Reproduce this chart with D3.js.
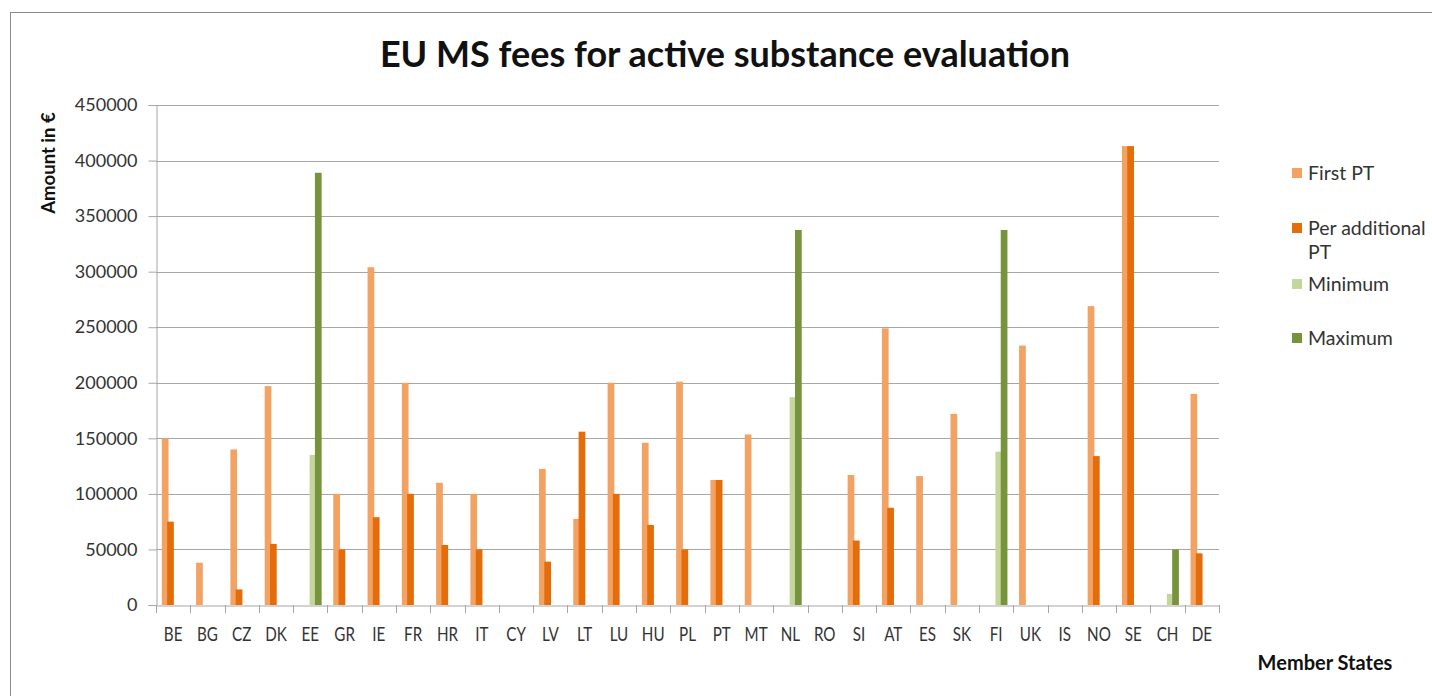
<!DOCTYPE html>
<html>
<head>
<meta charset="utf-8">
<script src="https://cdn.jsdelivr.net/npm/d3@7"></script>
<style>
    body { margin: 0; background: #fff; }
    text { font-family: Lato, "Open Sans", sans-serif; fill: #222; }
    .title { font-size: 36px; font-weight: bold; fill: #111; }
    .label { font-size: 18.5px; font-weight: bold; fill: #111; }
    .xlabel { font-size: 20px; font-weight: bold; fill: #111; }
    .tick text { font-size: 18px; fill: #333; }
    .legend { font-size: 19.5px; fill: #333; }
</style>
</head>
<body>
<script>
// Member states on the x axis
const countries = ["BE", "BG", "CZ", "DK", "EE", "GR", "IE", "FR", "HR", "IT", "CY", "LV", "LT", "LU", "HU",
    "PL", "PT", "MT", "NL", "RO", "SI", "AT", "ES", "SK", "FI", "UK", "IS", "NO", "SE", "CH", "DE"];

// Fees in euro, null where no bar is shown
const firstPT = [150000, 38000, 140000, 197000, null, 100000, 304000, 200000, 110000, 100000, null, 122500, 77500, 200000, 146000,
    201000, 112500, 153500, null, null, 117000, 249000, 116000, 172000, null, 233500, null, 269000, 413000, null, 190000];
const perAdditionalPT = [75000, null, 14000, 55000, null, 50000, 79000, 100000, 54000, 50000, null, 39000, 156000, 100000, 72000,
    50000, 112500, null, null, null, 58000, 87500, null, null, null, null, null, 134000, 413000, null, 46500];
const minimum = [null, null, null, null, 135000, null, null, null, null, null, null, null, null, null, null,
    null, null, null, 187000, null, null, null, null, null, 138000, null, null, null, null, 10000, null];
const maximum = [null, null, null, null, 389000, null, null, null, null, null, null, null, null, null, null,
    null, null, null, 337500, null, null, null, null, null, 337500, null, null, null, null, 50000, null];

const seriesNames = ["First PT", "Per additional PT", "Minimum", "Maximum"];
const yTicks = [0, 50000, 100000, 150000, 200000, 250000, 300000, 350000, 400000, 450000];

const seriesColors = ["#f2a262", "#e46c0a", "#c3d69b", "#77933c"];

function drawChart() {
    const width = 1432, height = 696;
    const plot = { left: 156, right: 1219, top: 105, bottom: 605 };

    const svg = d3.select("body").append("svg")
        .attr("width", width)
        .attr("height", height);

    // outer chart frame (only left and top edges are visible)
    svg.append("rect")
        .attr("x", 10.5).attr("y", 12.5)
        .attr("width", 1450).attr("height", 720)
        .attr("fill", "none")
        .attr("stroke", "#8a8a8a");

    const x0 = d3.scaleBand()
        .domain(countries)
        .range([plot.left, plot.right])
        .paddingInner(0.38)
        .paddingOuter(0.19);

    const x1 = d3.scaleBand()
        .domain(seriesNames)
        .range([0, x0.bandwidth()]);

    const y = d3.scaleLinear()
        .domain([0, 450000])
        .range([plot.bottom, plot.top]);

    // gridlines
    svg.append("g")
        .selectAll("line")
        .data(yTicks.slice(1))
        .join("line")
        .attr("x1", plot.left).attr("x2", plot.right)
        .attr("y1", d => Math.round(y(d)) + 0.5)
        .attr("y2", d => Math.round(y(d)) + 0.5)
        .attr("stroke", "#a6a6a6");

    // y axis
    const yAxis = svg.append("g")
        .attr("transform", `translate(${plot.left + 0.5},0)`)
        .call(d3.axisLeft(y).tickValues(yTicks).tickFormat(d3.format("d")).tickSize(8).tickPadding(11));
    yAxis.selectAll("line, path").attr("stroke", "#a6a6a6");

    // x axis: labels centred, tick marks at category boundaries
    const xAxis = svg.append("g")
        .attr("transform", `translate(0,${plot.bottom + 0.5})`)
        .call(d3.axisBottom(x0).tickSize(0).tickPadding(22));
    xAxis.select("path").attr("stroke", "#a6a6a6");
    xAxis.selectAll(".tick text")
        .style("font-size", "19px")
        .attr("transform", "scale(0.8,1)");

    const step = x0.step();
    svg.append("g")
        .selectAll("line")
        .data(d3.range(countries.length + 1))
        .join("line")
        .attr("x1", i => Math.round(plot.left + i * step) + 0.5)
        .attr("x2", i => Math.round(plot.left + i * step) + 0.5)
        .attr("y1", plot.bottom)
        .attr("y2", plot.bottom + 8)
        .attr("stroke", "#a6a6a6");

    // bars, later series slightly overlapping the earlier ones
    const allSeries = [firstPT, perAdditionalPT, minimum, maximum];
    const bars = svg.append("g");
    allSeries.forEach((values, s) => {
        bars.append("g")
            .selectAll("rect")
            .data(countries.map((c, i) => ({ c, v: values[i] })).filter(d => d.v !== null))
            .join("rect")
            .attr("x", d => x0(d.c) + x1(seriesNames[s]) - 0.7)
            .attr("width", x1.step() + 1.4)
            .attr("y", d => y(d.v))
            .attr("height", d => y(0) - y(d.v))
            .attr("fill", seriesColors[s]);
    });

    // title and axis titles
    svg.append("text")
        .attr("class", "title")
        .attr("x", 725).attr("y", 67)
        .attr("text-anchor", "middle")
        .text("EU MS fees for active substance evaluation");

    svg.append("text")
        .attr("class", "label")
        .attr("transform", "rotate(-90)")
        .attr("x", -163).attr("y", 55)
        .attr("text-anchor", "middle")
        .text("Amount in €");

    svg.append("text")
        .attr("class", "xlabel")
        .attr("x", 1325).attr("y", 670)
        .attr("text-anchor", "middle")
        .text("Member States");

    // legend
    const legendRows = [
        { name: "First PT", lines: ["First PT"], y: 173 },
        { name: "Per additional PT", lines: ["Per additional", "PT"], y: 228 },
        { name: "Minimum", lines: ["Minimum"], y: 284 },
        { name: "Maximum", lines: ["Maximum"], y: 338 }
    ];
    const legend = svg.append("g");
    legendRows.forEach((row, i) => {
        legend.append("rect")
            .attr("x", 1292).attr("y", row.y - 5)
            .attr("width", 10).attr("height", 10)
            .attr("fill", seriesColors[i]);
        row.lines.forEach((t, j) => {
            legend.append("text")
                .attr("class", "legend")
                .attr("x", 1308)
                .attr("y", row.y + 7 + j * 24)
                .text(t);
        });
    });
}

drawChart();
</script>
</body>
</html>
